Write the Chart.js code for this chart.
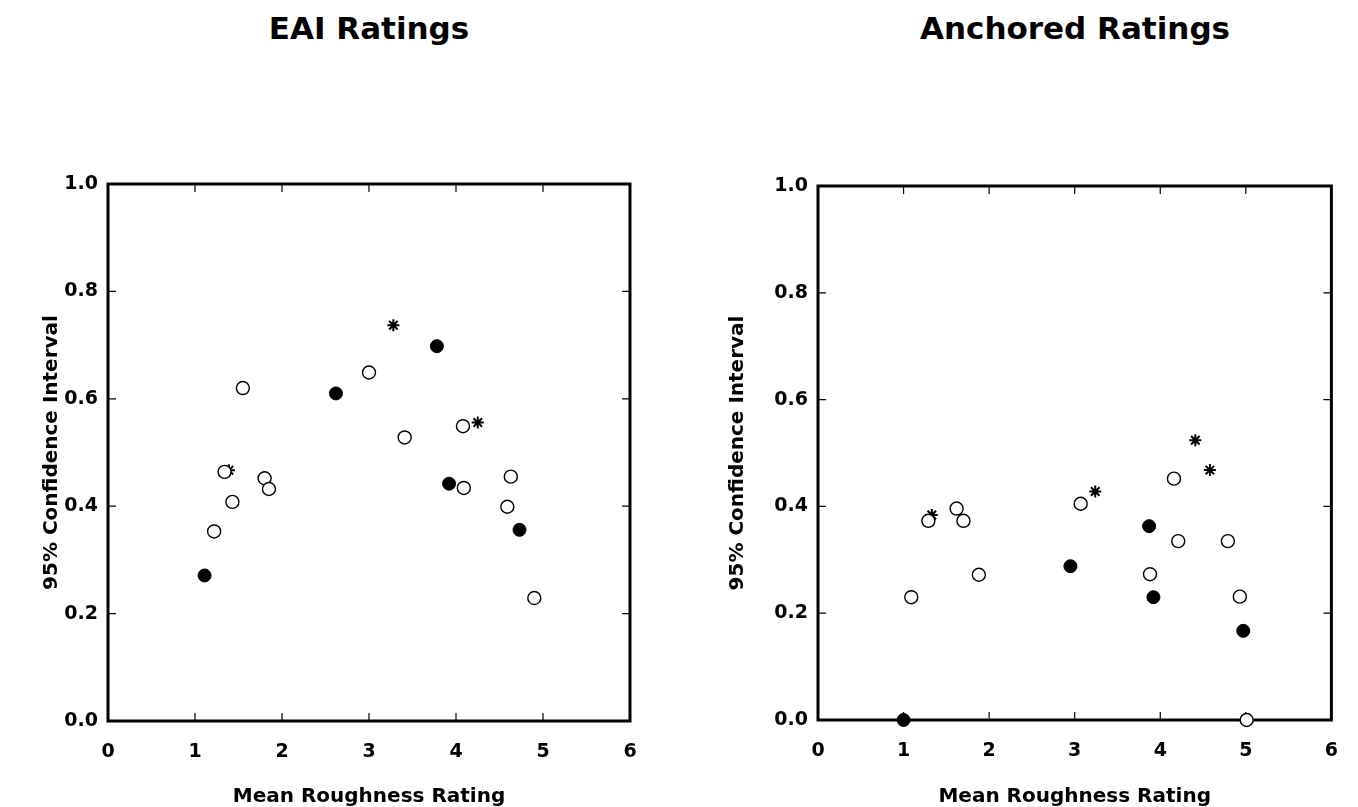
<!DOCTYPE html>
<html lang="en">
<head>
<meta charset="UTF-8">
<title>EAI and Anchored Ratings</title>
<script src="https://cdn.jsdelivr.net/npm/chart.js"></script>
<style>
    body {
        margin: 0;
        background: #fff;
        width: 1358px;
        height: 807px;
        position: relative;
        overflow: hidden;
        font-family: "DejaVu Sans", Arial, sans-serif;
    }
    .title {
        position: absolute;
        top: 13px;
        font-weight: bold;
        font-size: 31px;
        line-height: 31px;
        color: #000;
        transform: translateX(-50%);
        white-space: nowrap;
    }
    .panel {
        position: absolute;
        top: 0;
        height: 807px;
    }
</style>
</head>
<body>
<div class="title" style="left:369px">EAI Ratings</div>
<div class="title" style="left:1075px">Anchored Ratings</div>
<div class="panel" style="left:0;width:680px"><canvas id="eai"></canvas></div>
<div class="panel" style="left:700px;width:658px"><canvas id="anchored"></canvas></div>

<script>
// EAI ratings (left panel)
const eaiOpenX = [1.22, 1.34, 1.43, 1.55, 1.80, 1.85, 3.00, 3.41, 4.08, 4.09, 4.63, 4.59, 4.90];
const eaiOpenY = [0.353, 0.464, 0.408, 0.620, 0.452, 0.432, 0.649, 0.528, 0.549, 0.434, 0.455, 0.399, 0.229];
const eaiFilledX = [1.11, 2.62, 3.78, 3.92, 4.73];
const eaiFilledY = [0.271, 0.610, 0.698, 0.442, 0.356];
const eaiStarX = [1.39, 3.28, 4.25, 4.59];
const eaiStarY = [0.467, 0.737, 0.556, 0.399];

// Anchored ratings (right panel)
const ancOpenX = [1.09, 1.29, 1.62, 1.70, 1.88, 3.07, 3.88, 4.16, 4.21, 4.79, 4.93, 5.01];
const ancOpenY = [0.230, 0.373, 0.396, 0.373, 0.272, 0.405, 0.273, 0.452, 0.335, 0.335, 0.231, 0.0];
const ancFilledX = [1.00, 2.95, 3.87, 3.92, 4.97];
const ancFilledY = [0.0, 0.288, 0.363, 0.230, 0.167];
const ancStarX = [1.33, 3.24, 4.41, 4.58];
const ancStarY = [0.384, 0.428, 0.524, 0.468];

const xTicks = [0, 1, 2, 3, 4, 5, 6];
const yTicks = [0, 0.2, 0.4, 0.6, 0.8, 1.0];
const xTitle = 'Mean Roughness Rating';
const yTitle = '95% Confidence Interval';

function pts(xs, ys) {
    return xs.map(function (x, i) { return {x: x, y: ys[i]}; });
}

// box around the plot plus little inward tick marks on all four sides
const frame = {
    id: 'frame',
    beforeDatasetsDraw: function (chart) {
        const a = chart.chartArea;
        const ctx = chart.ctx;
        const xs = chart.scales.x, ys = chart.scales.y;
        ctx.save();
        ctx.strokeStyle = '#000';
        ctx.lineWidth = 1.2;
        ctx.beginPath();
        xTicks.slice(1, -1).forEach(function (v) {
            const px = xs.getPixelForValue(v);
            ctx.moveTo(px, a.bottom); ctx.lineTo(px, a.bottom - 8);
            ctx.moveTo(px, a.top); ctx.lineTo(px, a.top + 8);
        });
        yTicks.slice(1, -1).forEach(function (v) {
            const py = ys.getPixelForValue(v);
            ctx.moveTo(a.left, py); ctx.lineTo(a.left + 8, py);
            ctx.moveTo(a.right, py); ctx.lineTo(a.right - 8, py);
        });
        ctx.stroke();
        ctx.lineWidth = 3;
        ctx.strokeRect(a.left, a.top, a.right - a.left, a.bottom - a.top);
        ctx.restore();
    }
};

function makeChart(id, open, filled, stars, box) {
    const font = {family: '"DejaVu Sans", Arial, sans-serif', weight: 'bold'};
    return new Chart(document.getElementById(id), {
        type: 'scatter',
        data: {
            datasets: [
                {data: open, pointStyle: 'circle', pointRadius: 6.5, backgroundColor: '#fff',
                 borderColor: '#000', borderWidth: 1.4, clip: false},
                {data: filled, pointStyle: 'circle', pointRadius: 6.5, backgroundColor: '#000',
                 borderColor: '#000', borderWidth: 1, clip: false},
                {data: stars, pointStyle: 'star', pointRadius: 6, backgroundColor: '#000',
                 borderColor: '#000', borderWidth: 2, clip: false}
            ]
        },
        options: {
            responsive: true,
            maintainAspectRatio: false,
            animation: false,
            events: [],
            layout: {padding: {top: box.top, right: box.padRight, left: 0, bottom: 0}},
            plugins: {legend: {display: false}, tooltip: {enabled: false}},
            scales: {
                x: {
                    type: 'linear', min: 0, max: 6,
                    afterBuildTicks: function (s) { s.ticks = xTicks.map(function (v) { return {value: v}; }); },
                    afterFit: function (s) { s.height = box.xHeight; },
                    grid: {display: false, drawTicks: false},
                    border: {display: false},
                    ticks: {color: '#000', padding: 20, autoSkip: false, maxRotation: 0,
                            font: Object.assign({size: 19}, font)},
                    title: {display: true, text: xTitle, color: '#000', padding: 0,
                            font: Object.assign({size: 20, lineHeight: 1}, font)}
                },
                y: {
                    type: 'linear', min: 0, max: 1,
                    afterBuildTicks: function (s) { s.ticks = yTicks.map(function (v) { return {value: v}; }); },
                    afterFit: function (s) { s.width = box.left; },
                    grid: {display: false, drawTicks: false},
                    border: {display: false},
                    ticks: {color: '#000', padding: 10, autoSkip: false,
                            callback: function (v) { return Number(v).toFixed(1); },
                            font: Object.assign({size: 19}, font)},
                    title: {display: true, text: yTitle, color: '#000', padding: {top: box.yTitlePad, bottom: 0},
                            font: Object.assign({size: 20, lineHeight: 1}, font)}
                }
            }
        },
        plugins: [frame]
    });
}

makeChart('eai', pts(eaiOpenX, eaiOpenY), pts(eaiFilledX, eaiFilledY), pts(eaiStarX, eaiStarY),
          {left: 108, top: 184, padRight: 50, xHeight: 86, yTitlePad: 42});
makeChart('anchored', pts(ancOpenX, ancOpenY), pts(ancFilledX, ancFilledY), pts(ancStarX, ancStarY),
          {left: 118, top: 186, padRight: 21, xHeight: 87, yTitlePad: 28});
</script>
</body>
</html>
